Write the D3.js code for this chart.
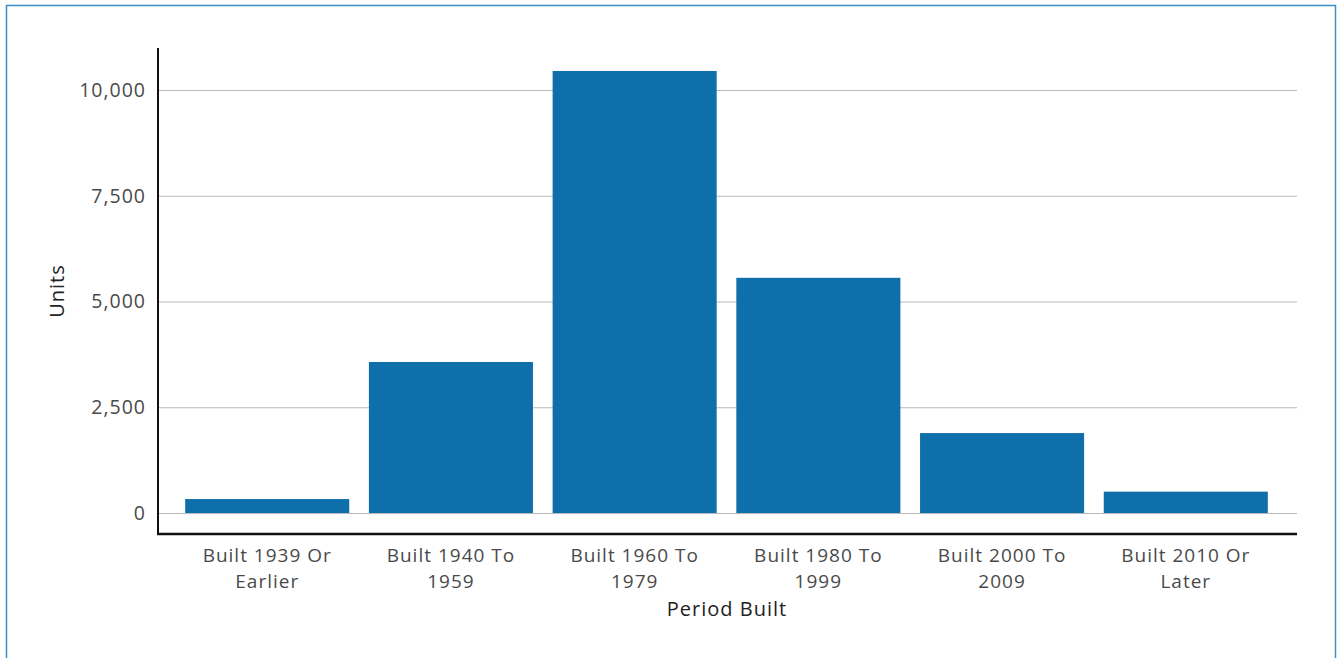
<!DOCTYPE html>
<html>
<head>
<meta charset="utf-8">
<script src="https://cdn.jsdelivr.net/npm/d3@7"></script>
<style>
  body { margin: 0; background: #fff; }
  svg text { font-family: "Open Sans", "DejaVu Sans", sans-serif; letter-spacing: 1px; }
</style>
</head>
<body>
<svg id="chart" width="1340" height="658"></svg>
<script>
// period labels, each split into two lines as in the picture
var periods = [
    ['Built 1939 Or', 'Earlier'],
    ['Built 1940 To', '1959'],
    ['Built 1960 To', '1979'],
    ['Built 1980 To', '1999'],
    ['Built 2000 To', '2009'],
    ['Built 2010 Or', 'Later']
];
var units = [330, 3570, 10450, 5560, 1890, 505];
var yTicks = [0, 2500, 5000, 7500, 10000];

var svg = d3.select('#chart');

// outer frame
svg.append('rect')
    .attr('x', 6.5).attr('y', 5.5)
    .attr('width', 1329).attr('height', 670)
    .attr('fill', 'none')
    .attr('stroke', '#3f8fc2')
    .attr('stroke-width', 1.5);

var x = d3.scaleBand()
    .domain(periods.map(function(d) { return d.join(' '); }))
    .range([176, 1277])
    .paddingInner(0.107)
    .paddingOuter(0.05);

var y = d3.scaleLinear()
    .domain([0, 10000])
    .range([513, 90]);

// gridlines
svg.append('g')
    .selectAll('line')
    .data(yTicks)
    .enter()
    .append('line')
    .attr('x1', 159)
    .attr('x2', 1297)
    .attr('y1', function(d) { return y(d) + 0.5; })
    .attr('y2', function(d) { return y(d) + 0.5; })
    .style('stroke', '#b8b8b8')
    .style('stroke-width', 1.2);

// bars
svg.append('g')
    .selectAll('rect')
    .data(units)
    .enter()
    .append('rect')
    .attr('x', function(d, i) { return x(periods[i].join(' ')); })
    .attr('y', function(d) { return y(d); })
    .attr('width', x.bandwidth())
    .attr('height', function(d) { return y(0) - y(d); })
    .style('fill', '#0f6fab');

// y axis
var yAxis = d3.axisLeft(y)
    .tickValues(yTicks)
    .tickFormat(d3.format(','))
    .tickSize(0)
    .tickPadding(12);

var gy = svg.append('g')
    .attr('transform', 'translate(158,0)')
    .call(yAxis);
gy.select('.domain').remove();
gy.selectAll('text')
    .style('font-size', '19.5px')
    .style('fill', '#4a4a4a');

svg.append('line')
    .attr('x1', 158).attr('x2', 158)
    .attr('y1', 48).attr('y2', 535)
    .style('stroke', '#111')
    .style('stroke-width', 2);

// x axis
var xAxis = d3.axisBottom(x).tickSize(0).tickFormat('');
var gx = svg.append('g')
    .attr('transform', 'translate(0,534)')
    .call(xAxis);
gx.select('.domain').remove();

svg.append('line')
    .attr('x1', 157).attr('x2', 1297)
    .attr('y1', 534).attr('y2', 534)
    .style('stroke', '#111')
    .style('stroke-width', 2.5);

gx.selectAll('.tick').each(function(d, i) {
    var t = d3.select(this).append('text')
        .attr('text-anchor', 'middle')
        .style('font-size', '19px')
        .style('fill', '#4a4a4a');
    t.selectAll('tspan')
        .data(periods[i])
        .enter()
        .append('tspan')
        .attr('x', 0)
        .attr('y', function(s, j) { return 28 + j * 26; })
        .text(function(s) { return s; });
});

// axis titles
svg.append('text')
    .attr('x', 727)
    .attr('y', 616)
    .attr('text-anchor', 'middle')
    .style('font-size', '20px')
    .style('fill', '#222')
    .text('Period Built');

svg.append('text')
    .attr('transform', 'translate(64,291) rotate(-90)')
    .attr('text-anchor', 'middle')
    .style('font-size', '20px')
    .style('fill', '#222')
    .text('Units');
</script>
</body>
</html>
